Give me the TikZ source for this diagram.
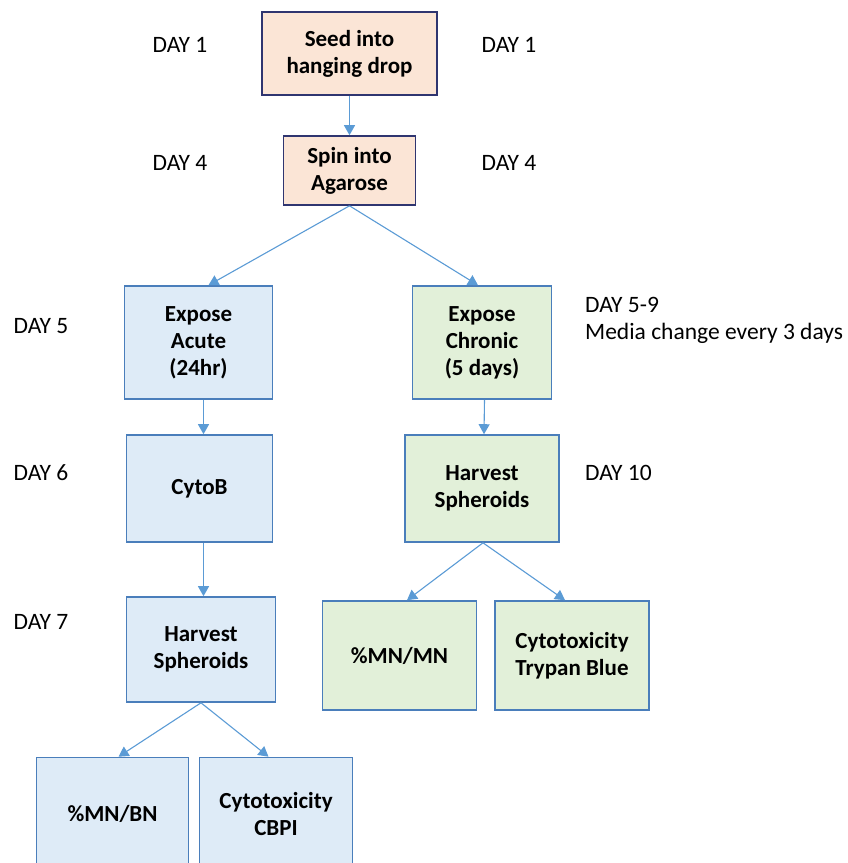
\documentclass[tikz,border=0pt]{standalone}
\usepackage{fontspec}
\setmainfont{Carlito}
\usepackage{tikz}
\usetikzlibrary{shapes.geometric, arrows.meta}
\definecolor{peachfill}{HTML}{FBE5D6}
\definecolor{navyline}{HTML}{2F3570}
\definecolor{bluefill}{HTML}{DEEBF7}
\definecolor{greenfill}{HTML}{E2F0D9}
\definecolor{boxline}{HTML}{4A7EBB}
\definecolor{arrowblue}{HTML}{5B9BD5}
\tikzstyle{seedbox} = [rectangle, text centered, draw = navyline, line width = 1.6pt,
  fill = peachfill, font = \fontsize{23}{27}\selectfont\bfseries, align = center]
\tikzstyle{acutebox} = [rectangle, text centered, draw = boxline, line width = 1.6pt,
  fill = bluefill, font = \fontsize{23}{27}\selectfont\bfseries, align = center,
  minimum width = 148pt, minimum height = 107pt]
\tikzstyle{chronicbox} = [rectangle, text centered, draw = boxline, line width = 1.6pt,
  fill = greenfill, font = \fontsize{23}{27}\selectfont\bfseries, align = center,
  minimum width = 154pt, minimum height = 109pt]
\tikzstyle{daylabel} = [font = \fontsize{23.5}{27}\selectfont, inner sep = 0pt]
\tikzstyle{arrow} = [line width = 1.1pt, draw = arrowblue, ->,
  >={Triangle[length = 10pt, width = 11pt]}]

\begin{document}
\begin{tikzpicture}[x = 1pt, y = 1pt, node distance = 117pt]
  \useasboundingbox (0,0) rectangle (848,-863);

  \node (seed) [seedbox, minimum width = 175pt, minimum height = 83pt]
    at (349.5,-53.5) {Seed into\\hanging drop};
  \node (spin) [seedbox, below of = seed, minimum width = 132pt,
    minimum height = 69pt] {Spin into\\Agarose};
  \node (acute) [acutebox, below of = spin, node distance = 172pt, xshift = -151pt,
    minimum height = 113pt] {Expose\\Acute\\(24hr)};
  \node (chronic) [chronicbox, right of = acute, node distance = 283.5pt,
    minimum width = 139pt, minimum height = 113pt] {Expose\\Chronic\\(5 days)};
  \node (cytob) [acutebox, below of = acute, node distance = 146pt, xshift = 1pt,
    minimum width = 146pt] {CytoB};
  \node (harvest-r) [chronicbox, below of = chronic, node distance = 146pt,
    minimum height = 107pt] {Harvest\\Spheroids};
  \node (harvest-l) [acutebox, below of = cytob, node distance = 161pt, xshift = 1.5pt,
    minimum width = 149pt, minimum height = 105pt] {Harvest\\Spheroids};
  \node (mn-mn) [chronicbox, below of = harvest-r, node distance = 167pt,
    xshift = -82.5pt] {\%MN/MN};
  \node (trypan) [chronicbox, right of = mn-mn, node distance = 172.5pt]
    {Cytotoxicity\\Trypan Blue};
  \node (mn-bn) [acutebox, below of = harvest-l, node distance = 164pt,
    xshift = -88.5pt, minimum width = 152pt, minimum height = 112pt] {\%MN/BN};
  \node (cbpi) [acutebox, right of = mn-bn, node distance = 163.5pt,
    minimum width = 153pt, minimum height = 112pt] {Cytotoxicity\\CBPI};

  \node (day1-l) [daylabel] at (180,-45) {DAY 1};
  \node (day1-r) [daylabel] at (509,-45) {DAY 1};
  \node (day4-l) [daylabel] at (180,-163) {DAY 4};
  \node (day4-r) [daylabel] at (509,-163) {DAY 4};
  \node (day5) [daylabel] at (41,-326) {DAY 5};
  \node (day6) [daylabel] at (41,-473) {DAY 6};
  \node (day7) [daylabel] at (41,-622) {DAY 7};
  \node (day5-9) [daylabel, anchor = west] at (585,-305) {DAY 5-9};
  \node (media) [daylabel, anchor = west] at (585,-333) {Media change every 3 days};
  \node (day10) [daylabel, anchor = west] at (585,-473) {DAY 10};

  \draw [arrow] (seed) -- (spin);
  \draw [arrow] (spin.south) -- ([xshift = 10pt]acute.north);
  \draw [arrow] (spin.south) -- ([xshift = -4pt]chronic.north);
  \draw [arrow] ([xshift = 5pt]acute.south) -- ([xshift = 4pt]cytob.north);
  \draw [arrow] ([xshift = 4pt]cytob.south) -- ([xshift = 2.5pt]harvest-l.north);
  \draw [arrow] ([xshift = 2.5pt]chronic.south) -- ([xshift = 2pt]harvest-r.north);
  \draw [arrow] ([xshift = 1pt]harvest-r.south) -- ([xshift = 7.5pt]mn-mn.north);
  \draw [arrow] ([xshift = 1pt]harvest-r.south) -- ([xshift = -7pt]trypan.north);
  \draw [arrow] (harvest-l.south) -- ([xshift = 6pt]mn-bn.north);
  \draw [arrow] (harvest-l.south) -- ([xshift = -7.5pt]cbpi.north);
\end{tikzpicture}
\end{document}
